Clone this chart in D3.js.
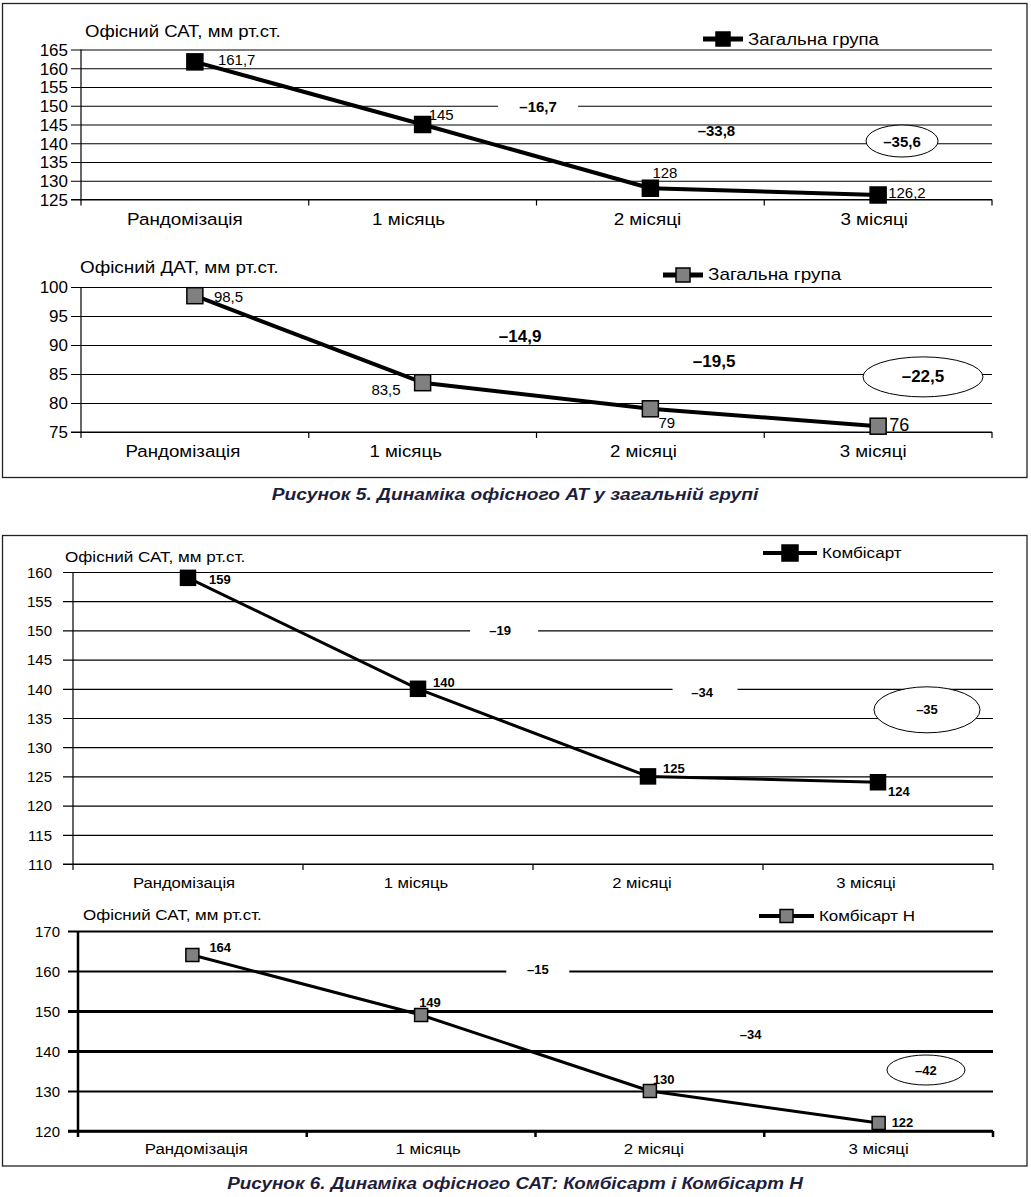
<!DOCTYPE html>
<html><head><meta charset="utf-8">
<script src="https://cdn.jsdelivr.net/npm/d3@7"></script>
<style>
html,body{margin:0;padding:0;background:#fff;}
svg{display:block;font-family:"Liberation Sans",Arial,Helvetica,sans-serif;}
</style></head>
<body>
<svg id="c" width="1031" height="1197"></svg>
<script>
// ---------- DATA ----------
const categories = ["Рандомізація", "1 місяць", "2 місяці", "3 місяці"];

const sat5Values = [161.7, 145, 128, 126.2];
const sat5Ticks = [125, 130, 135, 140, 145, 150, 155, 160, 165];
const sat5Deltas = ["–16,7", "–33,8", "–35,6"];

const dat5Values = [98.5, 83.5, 79, 76];
const dat5Ticks = [75, 80, 85, 90, 95, 100];
const dat5Deltas = ["–14,9", "–19,5", "–22,5"];

const kombiValues = [159, 140, 125, 124];
const kombiTicks = [110, 115, 120, 125, 130, 135, 140, 145, 150, 155, 160];
const kombiDeltas = ["–19", "–34", "–35"];

const kombiNValues = [164, 149, 130, 122];
const kombiNTicks = [120, 130, 140, 150, 160, 170];
const kombiNDeltas = ["–15", "–34", "–42"];

const titleSAT = "Офісний САТ, мм рт.ст.";
const titleDAT = "Офісний ДАТ, мм рт.ст.";
const seriesGeneral = "Загальна група";
const seriesKombi = "Комбісарт";
const seriesKombiN = "Комбісарт Н";
const caption5 = "Рисунок 5. Динаміка офісного АТ у загальній групі";
const caption6 = "Рисунок 6. Динаміка офісного САТ: Комбісарт і Комбісарт Н";

const fmt = v => String(v).replace(".", ",");

// ---------- LAYOUT ----------
const svg = d3.select("#c");

// horizontal stretch of a text around its anchor x
function stretch(sel, s) {
  sel.each(function () {
    const t = d3.select(this);
    const x = +t.attr("x") || 0;
    t.attr("transform", `translate(${x * (1 - s)},0) scale(${s},1)`);
  });
}

function drawPanel(p) {
  const g = svg.append("g");
  const x = d3.scaleBand().domain(categories).range([p.x0, p.x1]).paddingInner(0).paddingOuter(0);
  const y = d3.scaleLinear().domain(p.domain).range([p.yBot, p.yTop]);
  const cx = i => p.x0 + (i + 0.5) * x.step();
  const W = p.x1 - p.x0;

  // y axis with gridlines
  const ya = g.append("g").attr("transform", `translate(${p.x0},0)`)
    .call(d3.axisLeft(y).tickValues(p.ticks).tickSize(-W).tickSizeOuter(0).tickPadding(p.tickPad).tickFormat(d => d));
  ya.select(".domain").remove();
  ya.selectAll(".tick line").attr("x1", -10).attr("x2", W).attr("stroke", "#000")
    .attr("stroke-width", (d, i) => p.gridW ? p.gridW[i] : 1.2);
  ya.selectAll(".tick text").attr("font-size", p.tickFont).attr("fill", "#000")
    .attr("font-family", "Liberation Sans, Arial, sans-serif").attr("dy", "0.35em");

  // y axis line
  g.append("line").attr("x1", p.x0).attr("x2", p.x0).attr("y1", p.yTop).attr("y2", p.yBot + 1)
    .attr("stroke", "#000").attr("stroke-width", p.axisW);
  // x axis line
  g.append("line").attr("x1", p.x0 - 10).attr("x2", p.x1).attr("y1", p.yBot).attr("y2", p.yBot)
    .attr("stroke", "#000").attr("stroke-width", p.axisW);
  // boundary ticks
  g.selectAll(".bt").data(d3.range(categories.length + 1)).enter().append("line")
    .attr("x1", i => p.x0 + i * x.step()).attr("x2", i => p.x0 + i * x.step())
    .attr("y1", p.yBot).attr("y2", p.yBot + 6).attr("stroke", "#000").attr("stroke-width", p.axisW);

  // x labels
  const xa = g.append("g").attr("transform", `translate(0,${p.yBot})`)
    .call(d3.axisBottom(x).tickSize(0).tickPadding(p.xPad));
  xa.select(".domain").remove();
  xa.selectAll(".tick text").attr("font-size", p.xFont).attr("fill", "#000")
    .attr("font-family", "Liberation Sans, Arial, sans-serif")
    .attr("x", (d, i) => p.xDx[i])
    .call(stretch, p.xStretch);

  // title
  g.append("text").attr("x", p.titleX).attr("y", p.titleY).attr("font-size", p.titleFont).text(p.title)
    .call(stretch, p.tStretch);

  // legend
  g.append("line").attr("x1", p.legX).attr("x2", p.legX + p.legLen).attr("y1", p.legY).attr("y2", p.legY)
    .attr("stroke", "#000").attr("stroke-width", p.lineW + 1);
  g.append("rect").attr("x", p.legX + p.legLen / 2 - p.legM / 2).attr("y", p.legY - p.legM / 2)
    .attr("width", p.legM).attr("height", p.legM).attr("fill", p.fill).attr("stroke", "#000").attr("stroke-width", 1.5);
  g.append("text").attr("x", p.legX + p.legLen + 5).attr("y", p.legY).attr("dominant-baseline", "central")
    .attr("font-size", p.legFont).text(p.series).call(stretch, p.tStretch);

  // delta annotations
  p.deltas.forEach((t, k) => {
    const a = p.ann[k];
    const ax = cx(a.idx), ay = y(a.value);
    if (a.bg) g.append("rect").attr("x", ax - a.bg[0] / 2 + (a.bgdx || 0)).attr("y", ay - a.bg[1] / 2)
      .attr("width", a.bg[0]).attr("height", a.bg[1]).attr("fill", "#fff");
    if (a.ell) g.append("ellipse").attr("cx", ax).attr("cy", ay).attr("rx", a.ell[0]).attr("ry", a.ell[1])
      .attr("fill", "#fff").attr("stroke", "#000").attr("stroke-width", 1);
    g.append("text").attr("x", ax).attr("y", ay).attr("text-anchor", "middle").attr("dominant-baseline", "central")
      .attr("font-weight", "bold").attr("font-size", a.size).text(t);
  });

  // series line
  const line = d3.line().x((d, i) => cx(i)).y(d => y(d));
  g.append("path").datum(p.values).attr("d", line).attr("fill", "none").attr("stroke", "#000")
    .attr("stroke-width", p.lineW).attr("stroke-linejoin", "round");
  // markers
  g.selectAll(".m").data(p.values).enter().append("rect")
    .attr("x", (d, i) => cx(i) - p.mSize / 2).attr("y", d => y(d) - p.mSize / 2)
    .attr("width", p.mSize).attr("height", p.mSize).attr("fill", p.fill)
    .attr("stroke", "#000").attr("stroke-width", 1.5);
  // value labels
  g.selectAll(".vl").data(p.values).enter().append("text")
    .attr("x", (d, i) => cx(i) + p.lab[i][0]).attr("y", (d, i) => y(d) + p.lab[i][1])
    .attr("text-anchor", (d, i) => p.lab[i][2] || "start").attr("dominant-baseline", "central")
    .attr("font-weight", p.labBold ? "bold" : "normal")
    .attr("font-size", (d, i) => p.lab[i][3] || p.labFont).text(d => fmt(d));
}

// frames
svg.append("rect").attr("x", 2.5).attr("y", 3.5).attr("width", 1024.5).attr("height", 474)
  .attr("fill", "none").attr("stroke", "#222").attr("stroke-width", 1.3);
svg.append("rect").attr("x", 2.5).attr("y", 535.5).attr("width", 1024.5).attr("height", 630.5)
  .attr("fill", "none").attr("stroke", "#222").attr("stroke-width", 1.3);

// Panel A
drawPanel({
  values: sat5Values, ticks: sat5Ticks, domain: [125, 165], deltas: sat5Deltas,
  x0: 81, x1: 992, yTop: 49.5, yBot: 199.5, gridW: null, axisW: 1.2,
  tickFont: 17, tickPad: 13, xFont: 17, xPad: 13, xStretch: 1.11, tStretch: 1.16,
  xDx: [-10, -14, -3, -4],
  title: titleSAT, titleX: 85, titleY: 37, titleFont: 16,
  series: seriesGeneral, legX: 703, legY: 39, legLen: 40, legM: 14, legFont: 16,
  fill: "#000", mSize: 16, lineW: 4,
  labFont: 15, labBold: false,
  lab: [[23, -2], [6, -10], [2, -16], [10, -3]],
  ann: [
    { idx: 1.507, value: 149.7, size: 15, bg: [80, 14] },
    { idx: 2.29, value: 143.5, size: 15 },
    { idx: 3.105, value: 140.6, size: 15, ell: [36, 16] }
  ]
});

// Panel B
drawPanel({
  values: dat5Values, ticks: dat5Ticks, domain: [75, 100], deltas: dat5Deltas,
  x0: 81, x1: 992, yTop: 287, yBot: 432, gridW: null, axisW: 1.2,
  tickFont: 17, tickPad: 13, xFont: 17, xPad: 13, xStretch: 1.1, tStretch: 1.18,
  xDx: [-12, -17, -7, -5],
  title: titleDAT, titleX: 80, titleY: 273, titleFont: 16,
  series: seriesGeneral, legX: 663, legY: 275, legLen: 40, legM: 14, legFont: 16,
  fill: "#808080", mSize: 16, lineW: 4,
  labFont: 15, labBold: false,
  lab: [[19, 1], [-22, 7, "end"], [8, 14], [11, -1, "start", 18]],
  ann: [
    { idx: 1.428, value: 91.4, size: 17 },
    { idx: 2.28, value: 87.07, size: 17 },
    { idx: 3.197, value: 84.5, size: 17, ell: [60, 20] }
  ]
});

// Panel C
drawPanel({
  values: kombiValues, ticks: kombiTicks, domain: [110, 160], deltas: kombiDeltas,
  x0: 73, x1: 993, yTop: 572, yBot: 864, gridW: null, axisW: 1.2,
  tickFont: 15, tickPad: 21, xFont: 15, xPad: 13, xStretch: 1.11, tStretch: 1.18,
  xDx: [-4, -2, -6, -12],
  title: titleSAT, titleX: 65, titleY: 562, titleFont: 14.5,
  series: seriesKombi, legX: 763, legY: 553, legLen: 54, legM: 16, legFont: 14.5,
  fill: "#000", mSize: 15, lineW: 3,
  labFont: 13, labBold: true,
  lab: [[21, 2], [15, -6], [15, -8], [10, 9]],
  ann: [
    { idx: 1.357, value: 150, size: 13, bg: [68, 14], bgdx: 4 },
    { idx: 2.235, value: 139.45, size: 13, bg: [65, 14], bgdx: 3 },
    { idx: 3.213, value: 136.4, size: 13, ell: [53, 23] }
  ]
});

// Panel D
drawPanel({
  values: kombiNValues, ticks: kombiNTicks, domain: [120, 170], deltas: kombiNDeltas,
  x0: 78, x1: 993, yTop: 931, yBot: 1131, gridW: [2.5, 2, 3, 3, 2, 2], axisW: 2.5,
  tickFont: 15, tickPad: 18, xFont: 15, xPad: 12, xStretch: 1.12, tStretch: 1.17,
  xDx: [4, 7, 4, 0],
  title: titleSAT, titleX: 83, titleY: 920, titleFont: 14.5,
  series: seriesKombiN, legX: 759, legY: 916, legLen: 55, legM: 13, legFont: 14.5,
  fill: "#808080", mSize: 13, lineW: 3,
  labFont: 13, labBold: true,
  lab: [[17, -8], [-2, -13], [3, -12], [13, -1]],
  ann: [
    { idx: 1.51, value: 160.5, size: 13, bg: [63, 10] },
    { idx: 2.44, value: 144.25, size: 13 },
    { idx: 3.207, value: 135.25, size: 13, ell: [39, 15] }
  ]
});

// captions
svg.append("text").attr("x", 515).attr("y", 494).attr("text-anchor", "middle").attr("dominant-baseline", "central")
  .attr("font-weight", "bold").attr("font-style", "italic").attr("font-size", 17).attr("fill", "#1e1e3c").text(caption5)
  .call(stretch, 1.13);
svg.append("text").attr("x", 515).attr("y", 1183).attr("text-anchor", "middle").attr("dominant-baseline", "central")
  .attr("font-weight", "bold").attr("font-style", "italic").attr("font-size", 17).attr("fill", "#1e1e3c").text(caption6)
  .call(stretch, 1.11);
</script>
</body></html>
